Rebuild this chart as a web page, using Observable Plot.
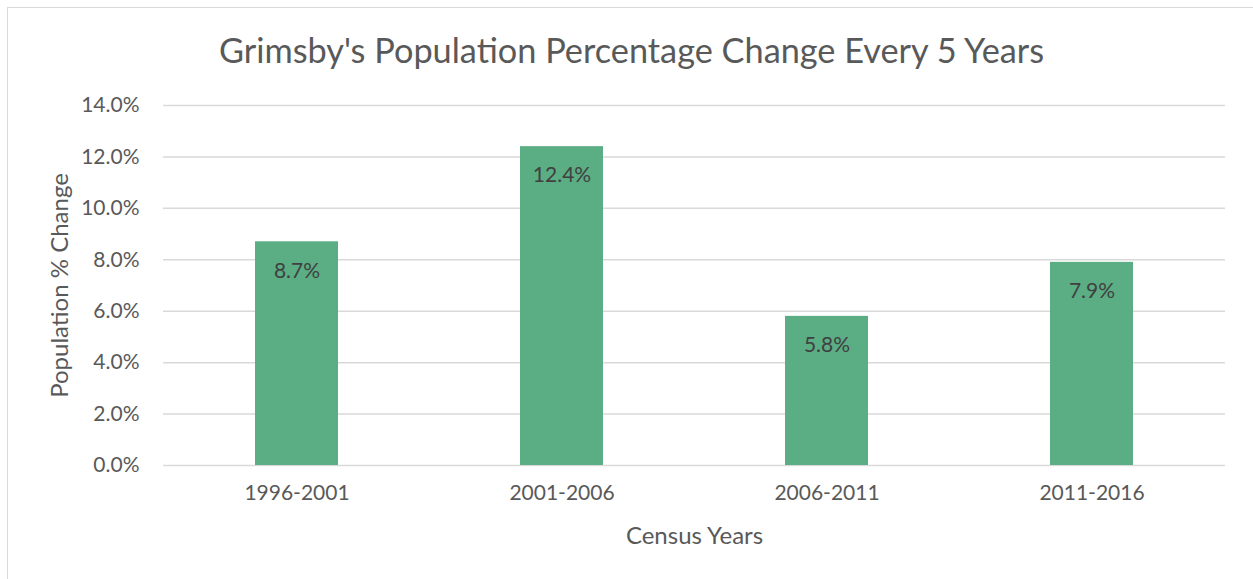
<!DOCTYPE html>
<html>
<head>
<meta charset="utf-8">
<script src="https://cdn.jsdelivr.net/npm/d3@7"></script>
<script src="https://cdn.jsdelivr.net/npm/@observablehq/plot@0.6"></script>
<style>
  html, body { margin: 0; padding: 0; background: #fff; }
  #wrap { position: relative; width: 1253px; height: 579px; overflow: hidden; font-family: Lato, "Open Sans", sans-serif; }
  #frame { position: absolute; left: 7px; top: 7px; width: 1270px; height: 600px; border: 1px solid #d9d9d9; box-sizing: border-box; }
  #title { position: absolute; top: 29px; left: 5px; width: 1253px; text-align: center; font-size: 34.3px; color: #595959; white-space: nowrap; }
  #chart { position: absolute; left: 0; top: 85px; }
</style>
</head>
<body>
<div id="wrap">
  <div id="frame"></div>
  <div id="title">Grimsby's Population Percentage Change Every 5 Years</div>
  <div id="chart"></div>
</div>
<script>
const periods = ["1996-2001", "2001-2006", "2006-2011", "2011-2016"];
const changes = [8.7, 12.4, 5.8, 7.9];
const yTicks = [0, 2, 4, 6, 8, 10, 12, 14];

const data = periods.map((p, i) => ({period: p, value: changes[i]}));

const chart = Plot.plot({
  width: 1253,
  height: 494,
  marginTop: 20,
  marginBottom: 114,
  marginLeft: 163,
  marginRight: 28,
  style: {fontFamily: "Lato, 'Open Sans', sans-serif", background: "transparent", fontSize: "24px", color: "#595959"},
  x: {domain: periods, paddingInner: 0.687, paddingOuter: 0.3435},
  y: {domain: [0, 14]},
  marks: [
    Plot.ruleY(yTicks, {stroke: "#d9d9d9", strokeWidth: 1.5}),
    Plot.barY(data, {x: "period", y: "value", fill: "#5BAD84"}),
    Plot.text(data, {x: "period", y: "value", text: d => d.value.toFixed(1) + "%", dy: 29, fill: "#404040", fontSize: 21}),
    Plot.axisY({ticks: yTicks, tickFormat: d => d.toFixed(1) + "%", tickSize: 0, tickPadding: 24, fontSize: 21, color: "#595959", label: null}),
    Plot.axisY({ticks: [], label: "Population % Change", labelAnchor: "center", labelArrow: "none", labelOffset: 113, color: "#595959"}),
    Plot.axisX({tickSize: 0, tickPadding: 20, fontSize: 21, color: "#595959", label: null}),
    Plot.axisX({ticks: [], label: "Census Years", labelAnchor: "center", labelArrow: "none", labelOffset: 78, color: "#595959"})
  ]
});
document.getElementById("chart").appendChild(chart);
</script>
</body>
</html>
